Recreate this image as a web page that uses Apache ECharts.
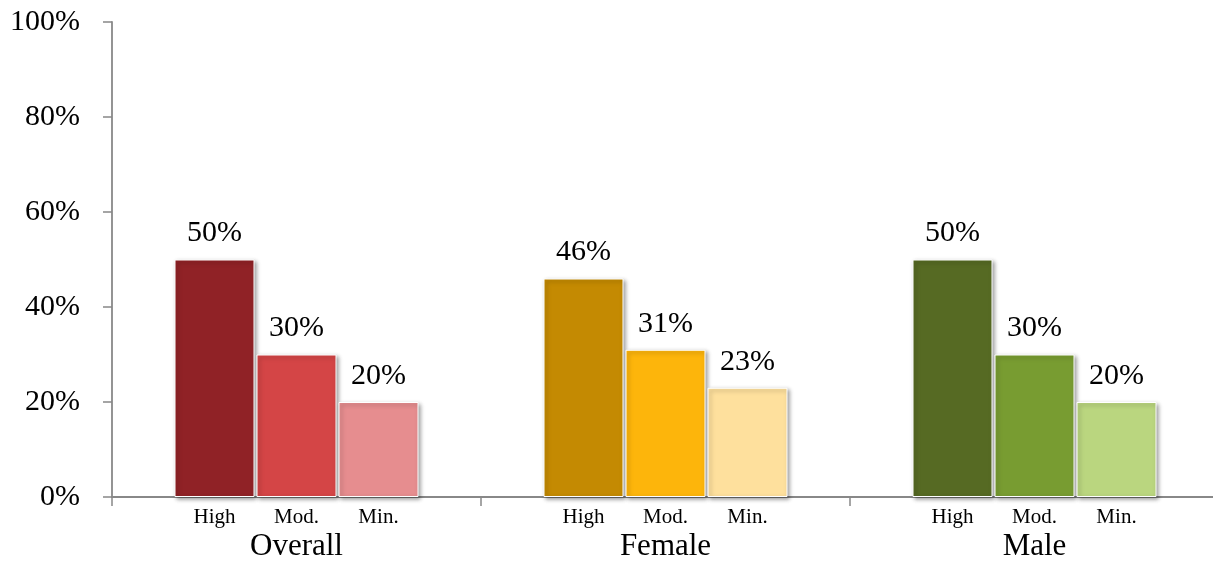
<!DOCTYPE html>
<html>
<head>
<meta charset="utf-8">
<script src="https://cdn.jsdelivr.net/npm/echarts@6/dist/echarts.min.js"></script>
<style>
  html, body { margin: 0; padding: 0; background: #fff; }
  #chart { width: 1213px; height: 563px; }
</style>
</head>
<body>
<div id="chart"></div>
<script>
// Activity level shares by group
const groups = ['Overall', 'Female', 'Male'];
const levels = ['High', 'Mod.', 'Min.'];
const highValues = [50, 46, 50];
const modValues = [30, 31, 30];
const minValues = [20, 23, 20];
const yTicks = [0, 20, 40, 60, 80, 100];

// colour per group (rows) and level (columns)
const palette = [
  ['#902226', '#D44546', '#E68D8F'],
  ['#C48A02', '#FDB50B', '#FEE09D'],
  ['#566A23', '#789C31', '#BAD67F']
];

const serif = '"Liberation Serif", "Times New Roman", serif';
const axisGray = '#888888';

const levelValues = [highValues, modValues, minValues];

const valueSeries = levels.map((name, li) => ({
  name: name,
  type: 'bar',
  xAxisIndex: 0,
  barWidth: 80,
  barGap: '2.5%',
  data: levelValues[li].map((v, gi) => ({
    value: v,
    itemStyle: { color: palette[gi][li] }
  })),
  itemStyle: {
    borderColor: '#ffffff',
    borderWidth: 1,
    shadowColor: 'rgba(0,0,0,0.38)',
    shadowBlur: 4,
    shadowOffsetX: 2,
    shadowOffsetY: 2
  },
  label: {
    show: true,
    position: 'top',
    distance: 11,
    formatter: p => p.value + '%',
    fontFamily: serif,
    fontSize: 30,
    color: '#000'
  },
  emphasis: { disabled: true }
}));

// level names written under each bar
const levelLabelSeries = levels.map((name, li) => ({
  name: name + ' label',
  type: 'bar',
  xAxisIndex: 1,
  barWidth: 80,
  barGap: '2.5%',
  silent: true,
  data: groups.map(() => 0),
  itemStyle: { color: 'rgba(0,0,0,0)' },
  label: {
    show: true,
    position: 'bottom',
    distance: 10,
    formatter: () => name,
    fontFamily: serif,
    fontSize: 21,
    color: '#000'
  }
}));

const option = {
  animation: false,
  backgroundColor: '#ffffff',
  grid: { left: 112, top: 22, right: -6, bottom: 66, containLabel: false, outerBoundsMode: 'none' },
  xAxis: [
    {
      type: 'category',
      data: groups,
      axisLine: { lineStyle: { color: axisGray, width: 1.8 } },
      axisTick: { show: true, length: 9, lineStyle: { color: axisGray, width: 1.5 } },
      axisLabel: {
        margin: 34,
        fontFamily: serif,
        fontSize: 31,
        color: '#000'
      }
    },
    {
      type: 'category',
      data: groups,
      show: false
    }
  ],
  yAxis: {
    type: 'value',
    min: yTicks[0],
    max: yTicks[yTicks.length - 1],
    interval: yTicks[1] - yTicks[0],
    splitLine: { show: false },
    axisLine: { show: true, lineStyle: { color: axisGray, width: 1.8 } },
    axisTick: { show: true, length: 9, lineStyle: { color: axisGray, width: 1.5 } },
    axisLabel: {
      margin: 32,
      formatter: '{value}%',
      fontFamily: serif,
      fontSize: 30,
      color: '#000'
    }
  },
  series: valueSeries.concat(levelLabelSeries)
};

const chart = echarts.init(document.getElementById('chart'), null, { renderer: 'canvas' });
chart.setOption(option);
</script>
</body>
</html>
